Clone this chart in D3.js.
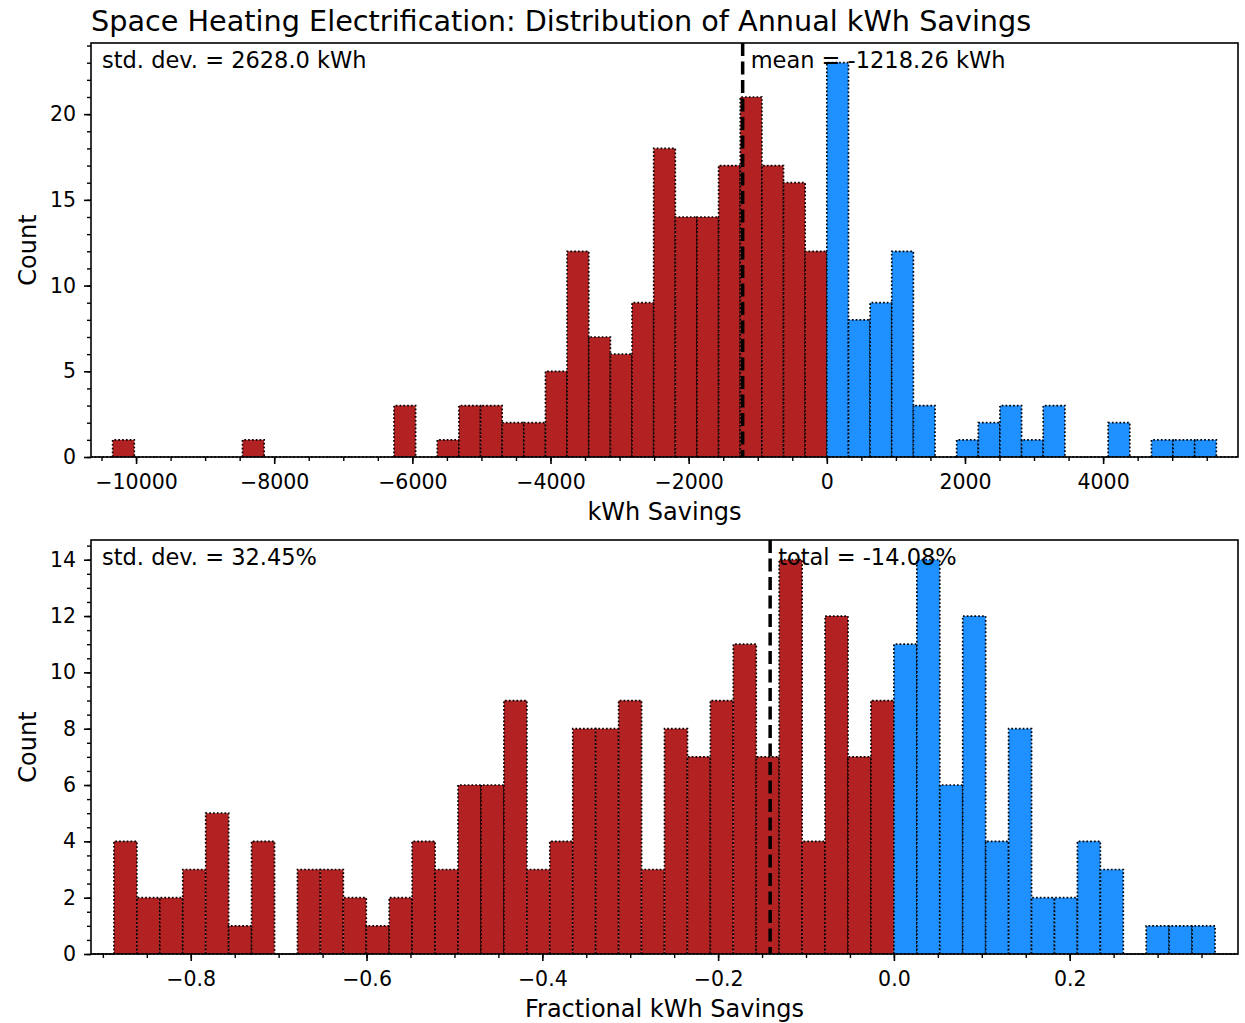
<!DOCTYPE html>
<html>
<head>
<meta charset="utf-8">
<script src="https://cdn.jsdelivr.net/npm/d3@7"></script>
<style>
  body { margin: 0; background: #ffffff; }
  svg { display: block; font-family: "DejaVu Sans", sans-serif; }
</style>
</head>
<body>
<div id="chart"></div>
<script>
// histogram counts, left to right
// annual kWh savings: bins below 0 (first one empty) and from 0 up (last one empty)
const kwhBinWidth = 313.3;
const kwhNegCounts = [0, 1, 0, 0, 0, 0, 0, 1, 0, 0, 0, 0, 0, 0, 3, 0, 1, 3, 3, 2, 2, 5, 12, 7, 6, 9, 18, 14, 14, 17, 21, 17, 16, 12];
const kwhPosCounts = [23, 8, 9, 12, 3, 0, 1, 2, 3, 1, 3, 0, 0, 2, 0, 1, 1, 1, 0];
const kwhMean = -1218.26;
const kwhStd = 2628.0;
const kwhTicks = [-10000, -8000, -6000, -4000, -2000, 0, 2000, 4000];
const kwhYTicks = [0, 5, 10, 15, 20];

// fractional savings
const fracBinWidth = 0.0261;
const fracNegCounts = [0, 4, 2, 2, 3, 5, 1, 4, 0, 3, 3, 2, 1, 2, 4, 3, 6, 6, 9, 3, 4, 8, 8, 9, 3, 8, 7, 9, 11, 7, 14, 4, 12, 7, 9];
const fracPosCounts = [11, 14, 6, 12, 4, 8, 2, 2, 4, 3, 0, 1, 1, 1, 0];
const fracTotal = -0.1408;
const fracStd = 32.45;
const fracTicks = [-0.8, -0.6, -0.4, -0.2, 0.0, 0.2];
const fracYTicks = [0, 2, 4, 6, 8, 10, 12, 14];

const W = 1245, H = 1023;
const FONT = "DejaVu Sans, sans-serif";

const svg = d3.select("#chart").append("svg")
    .attr("width", W)
    .attr("height", H)
    .style("background-color", "#ffffff");

svg.append("text")
    .attr("x", 91)
    .attr("y", 31)
    .style("font-size", "28.7px")
    .style("fill", "#000")
    .text("Space Heating Electrification: Distribution of Annual kWh Savings");

// turn the two count arrays into bins with their edges
function makeBins(negCounts, posCounts, width) {
    let bins = [];
    negCounts.forEach((c, i) => {
        let k = i - negCounts.length;
        bins.push({x0: k * width, x1: (k + 1) * width, count: c, neg: true});
    });
    posCounts.forEach((c, i) => {
        bins.push({x0: i * width, x1: (i + 1) * width, count: c, neg: false});
    });
    return bins;
}

function drawPanel(p) {
    let bins = makeBins(p.neg, p.pos, p.binWidth);
    let maxCount = d3.max(bins, d => d.count);

    let x = d3.scaleLinear()
        .domain([bins[0].x0, bins[bins.length - 1].x1])
        .range([p.left, p.right]);
    let y = d3.scaleLinear()
        .domain([0, maxCount * 1.05])
        .range([p.bottom, p.top]);

    let g = svg.append("g");

    // bars, as paths so empty bins still show their dotted edge
    g.selectAll("path.bar")
        .data(bins)
        .enter().append("path")
        .attr("class", "bar")
        .attr("d", d => {
            let x0 = x(d.x0), x1 = x(d.x1), y0 = y(0), y1 = y(d.count);
            return "M" + x0 + "," + y0 + "V" + y1 + "H" + x1 + "V" + y0 + "Z";
        })
        .attr("fill", d => d.neg ? "#b22222" : "#1e90ff")
        .attr("stroke", "#000")
        .attr("stroke-width", 1.7)
        .attr("stroke-dasharray", "1.7,2.1");

    // dashed marker line
    g.append("line")
        .attr("x1", x(p.marker))
        .attr("x2", x(p.marker))
        .attr("y1", p.top)
        .attr("y2", p.bottom)
        .attr("stroke", "#000")
        .attr("stroke-width", 3.5)
        .attr("stroke-dasharray", "13,5.5");

    // minor ticks first, then major with labels
    let xMinor = d3.range(Math.ceil(x.domain()[0] / p.xMinorStep), Math.floor(x.domain()[1] / p.xMinorStep) + 1)
        .map(i => i * p.xMinorStep);
    g.append("g")
        .attr("transform", "translate(0," + p.bottom + ")")
        .call(d3.axisBottom(x).tickValues(xMinor).tickSize(4).tickFormat(""))
        .call(a => a.select(".domain").remove())
        .selectAll("line").attr("stroke-width", 1.4);

    let yMinor = d3.range(0, Math.floor(y.domain()[1] / p.yMinorStep) + 1).map(i => i * p.yMinorStep);
    g.append("g")
        .attr("transform", "translate(" + p.left + ",0)")
        .call(d3.axisLeft(y).tickValues(yMinor).tickSize(4).tickFormat(""))
        .call(a => a.select(".domain").remove())
        .selectAll("line").attr("stroke-width", 1.4);

    let xAxis = g.append("g")
        .attr("transform", "translate(0," + p.bottom + ")")
        .call(d3.axisBottom(x).tickValues(p.xTicks).tickSize(7).tickPadding(10).tickFormat(d3.format(p.xFormat)));
    xAxis.select(".domain").remove();
    xAxis.selectAll("line").attr("stroke-width", 1.6);
    xAxis.selectAll("text").style("font-size", "20.5px").style("font-family", FONT).attr("fill", "#000");

    let yAxis = g.append("g")
        .attr("transform", "translate(" + p.left + ",0)")
        .call(d3.axisLeft(y).tickValues(p.yTicks).tickSize(7).tickPadding(8));
    yAxis.select(".domain").remove();
    yAxis.selectAll("line").attr("stroke-width", 1.6);
    yAxis.selectAll("text").style("font-size", "20.5px").style("font-family", FONT).attr("fill", "#000");

    // frame
    g.append("rect")
        .attr("x", p.left)
        .attr("y", p.top)
        .attr("width", p.right - p.left)
        .attr("height", p.bottom - p.top)
        .attr("fill", "none")
        .attr("stroke", "#000")
        .attr("stroke-width", 1.6);

    // labels
    g.append("text")
        .attr("x", (p.left + p.right) / 2)
        .attr("y", p.bottom + 63)
        .attr("text-anchor", "middle")
        .style("font-size", "24px")
        .text(p.xLabel);

    g.append("text")
        .attr("transform", "translate(36," + (p.top + p.bottom) / 2 + ") rotate(-90)")
        .attr("text-anchor", "middle")
        .style("font-size", "24px")
        .text("Count");

    g.append("text")
        .attr("x", p.left + 11)
        .attr("y", p.top + 25)
        .style("font-size", "22.5px")
        .text(p.stdText);

    g.append("text")
        .attr("x", x(p.marker) + 8)
        .attr("y", p.top + 25)
        .style("font-size", "22.5px")
        .text(p.markerText);
}

drawPanel({
    neg: kwhNegCounts, pos: kwhPosCounts, binWidth: kwhBinWidth,
    left: 91, right: 1238, top: 43, bottom: 457,
    marker: kwhMean,
    markerText: "mean = " + kwhMean.toFixed(2) + " kWh",
    stdText: "std. dev. = " + kwhStd.toFixed(1) + " kWh",
    xTicks: kwhTicks, xFormat: "d", xMinorStep: 500,
    yTicks: kwhYTicks, yMinorStep: 1,
    xLabel: "kWh Savings"
});

drawPanel({
    neg: fracNegCounts, pos: fracPosCounts, binWidth: fracBinWidth,
    left: 91, right: 1238, top: 540, bottom: 954,
    marker: fracTotal,
    markerText: "total = " + (fracTotal * 100).toFixed(2) + "%",
    stdText: "std. dev. = " + fracStd.toFixed(2) + "%",
    xTicks: fracTicks, xFormat: ".1f", xMinorStep: 0.05,
    yTicks: fracYTicks, yMinorStep: 0.5,
    xLabel: "Fractional kWh Savings"
});
</script>
</body>
</html>
